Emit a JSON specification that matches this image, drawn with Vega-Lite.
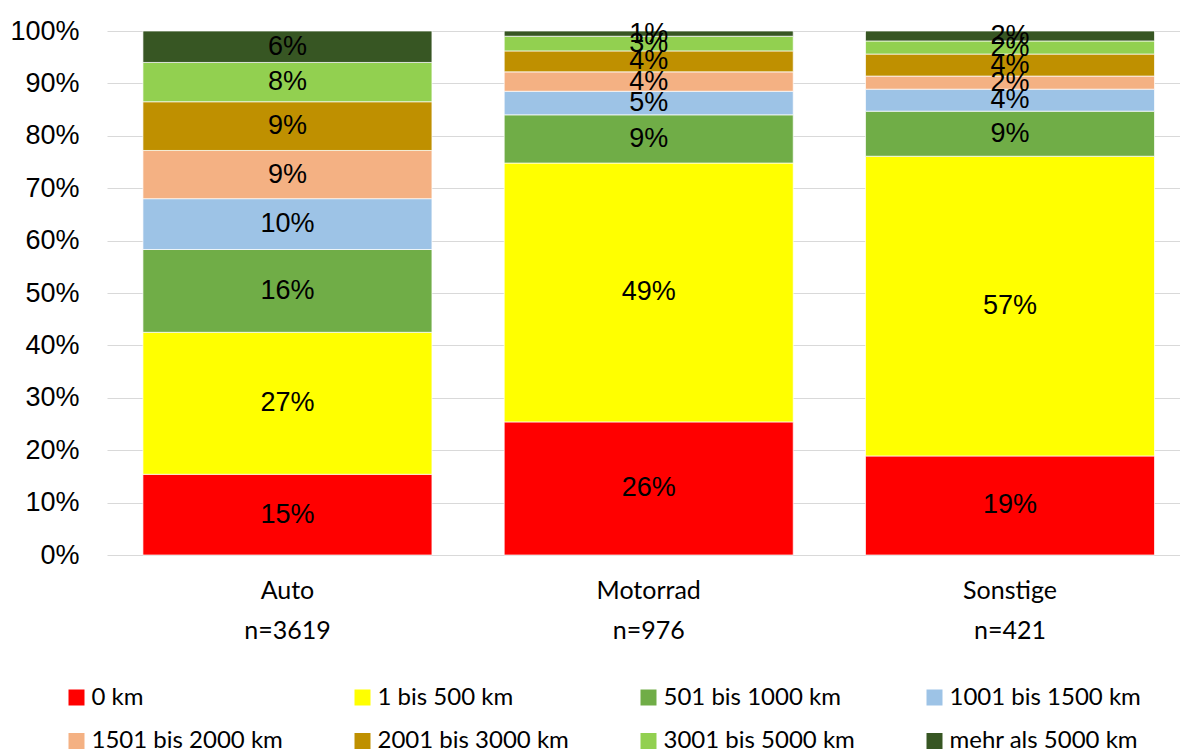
{
  "$schema": "https://vega.github.io/schema/vega-lite/v6.json",
  "width": 1073,
  "height": 524,
  "autosize": {"type": "none"},
  "padding": {"left": 107, "top": 31, "right": 0, "bottom": 194},
  "background": "white",
  "config": {
    "view": {"stroke": null},
    "axis": {"labelColor": "black", "domain": false, "ticks": false, "tickSize": 0, "title": null}
  },
  "data": {
    "values": [
      {"cat": "Auto n=3619", "km": "0 km", "o": 0, "v": 15.4, "lab": "15%"},
      {"cat": "Auto n=3619", "km": "1 bis 500 km", "o": 1, "v": 27.1, "lab": "27%"},
      {"cat": "Auto n=3619", "km": "501 bis  1000 km", "o": 2, "v": 15.8, "lab": "16%"},
      {"cat": "Auto n=3619", "km": "1001 bis 1500 km", "o": 3, "v": 9.7, "lab": "10%"},
      {"cat": "Auto n=3619", "km": "1501 bis 2000 km", "o": 4, "v": 9.2, "lab": "9%"},
      {"cat": "Auto n=3619", "km": "2001 bis 3000 km", "o": 5, "v": 9.3, "lab": "9%"},
      {"cat": "Auto n=3619", "km": "3001 bis 5000 km", "o": 6, "v": 7.5, "lab": "8%"},
      {"cat": "Auto n=3619", "km": "mehr als 5000 km", "o": 7, "v": 6.0, "lab": "6%"},
      {"cat": "Motorrad n=976", "km": "0 km", "o": 0, "v": 25.4, "lab": "26%"},
      {"cat": "Motorrad n=976", "km": "1 bis 500 km", "o": 1, "v": 49.4, "lab": "49%"},
      {"cat": "Motorrad n=976", "km": "501 bis  1000 km", "o": 2, "v": 9.2, "lab": "9%"},
      {"cat": "Motorrad n=976", "km": "1001 bis 1500 km", "o": 3, "v": 4.5, "lab": "5%"},
      {"cat": "Motorrad n=976", "km": "1501 bis 2000 km", "o": 4, "v": 3.7, "lab": "4%"},
      {"cat": "Motorrad n=976", "km": "2001 bis 3000 km", "o": 5, "v": 4.0, "lab": "4%"},
      {"cat": "Motorrad n=976", "km": "3001 bis 5000 km", "o": 6, "v": 2.8, "lab": "3%"},
      {"cat": "Motorrad n=976", "km": "mehr als 5000 km", "o": 7, "v": 1.0, "lab": "1%"},
      {"cat": "Sonstige n=421", "km": "0 km", "o": 0, "v": 18.9, "lab": "19%"},
      {"cat": "Sonstige n=421", "km": "1 bis 500 km", "o": 1, "v": 57.2, "lab": "57%"},
      {"cat": "Sonstige n=421", "km": "501 bis  1000 km", "o": 2, "v": 8.6, "lab": "9%"},
      {"cat": "Sonstige n=421", "km": "1001 bis 1500 km", "o": 3, "v": 4.2, "lab": "4%"},
      {"cat": "Sonstige n=421", "km": "1501 bis 2000 km", "o": 4, "v": 2.5, "lab": "2%"},
      {"cat": "Sonstige n=421", "km": "2001 bis 3000 km", "o": 5, "v": 4.2, "lab": "4%"},
      {"cat": "Sonstige n=421", "km": "3001 bis 5000 km", "o": 6, "v": 2.5, "lab": "2%"},
      {"cat": "Sonstige n=421", "km": "mehr als 5000 km", "o": 7, "v": 1.9, "lab": "2%"}
    ]
  },
  "encoding": {
    "x": {
      "field": "cat",
      "type": "nominal",
      "sort": null,
      "scale": {"paddingInner": 0.2, "paddingOuter": 0.085, "align": 0.585},
      "axis": {
        "labelAngle": 0,
        "labelFont": "Lato",
        "labelFontSize": 25,
        "labelPadding": 23,
        "labelLineHeight": 40,
        "labelExpr": "split(datum.label, ' ')"
      }
    }
  },
  "layer": [
    {
      "mark": {"type": "bar", "stroke": "white", "strokeWidth": 0.7},
      "encoding": {
        "y": {
          "field": "v",
          "type": "quantitative",
          "stack": "normalize",
          "scale": {"domain": [0, 1]},
          "axis": {
            "format": ".0%",
            "values": [0, 0.1, 0.2, 0.3, 0.4, 0.5, 0.6, 0.7, 0.8, 0.9, 1],
            "grid": true,
            "gridColor": "#d9d9d9",
            "gridWidth": 1.2,
            "labelFont": "Liberation Sans",
            "labelFontSize": 27,
            "labelPadding": 28
          }
        },
        "color": {
          "field": "km",
          "type": "nominal",
          "scale": {
            "domain": ["0 km", "1 bis 500 km", "501 bis  1000 km", "1001 bis 1500 km", "1501 bis 2000 km", "2001 bis 3000 km", "3001 bis 5000 km", "mehr als 5000 km"],
            "range": ["#FF0000", "#FFFF00", "#70AD47", "#9DC3E6", "#F4B183", "#BF9000", "#92D050", "#375623"]
          },
          "legend": {
            "orient": "none",
            "legendX": -42.5,
            "legendY": 654.5,
            "direction": "horizontal",
            "columns": 4,
            "gridAlign": "all",
            "columnPadding": 67,
            "rowPadding": 19.5,
            "symbolType": "square",
            "symbolSize": 256,
            "symbolStrokeWidth": 0,
            "labelFont": "Lato",
            "labelFontSize": 24,
            "labelColor": "black",
            "labelOffset": 3,
            "labelLimit": 300,
            "title": null
          }
        },
        "order": {"field": "o", "type": "quantitative"}
      }
    },
    {
      "mark": {"type": "text", "font": "Liberation Sans", "fontSize": 27, "color": "black", "baseline": "middle"},
      "encoding": {
        "y": {"field": "v", "type": "quantitative", "stack": "normalize", "bandPosition": 0.5},
        "detail": {"field": "km"},
        "order": {"field": "o", "type": "quantitative"},
        "text": {"field": "lab"}
      }
    }
  ]
}
